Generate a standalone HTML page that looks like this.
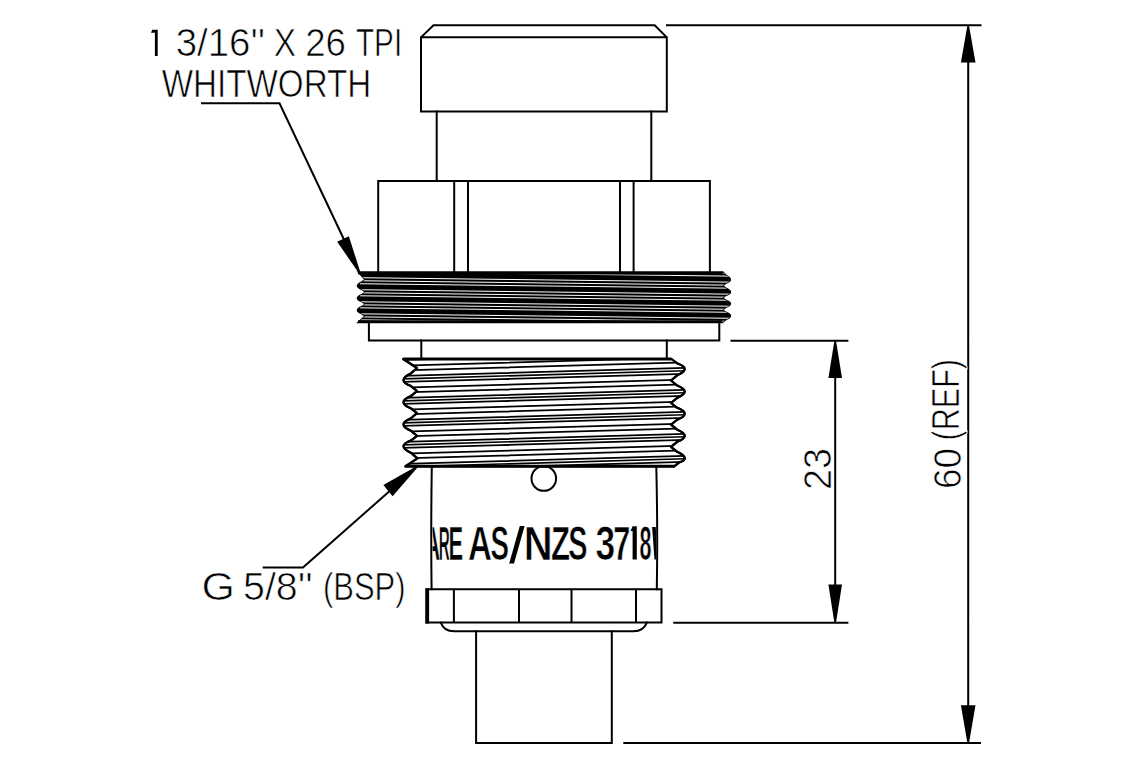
<!DOCTYPE html>
<html><head><meta charset="utf-8"><title>drawing</title>
<style>
html,body{margin:0;padding:0;background:#fff;width:1140px;height:760px;overflow:hidden}
svg{display:block}
text{font-family:"Liberation Sans",sans-serif}
</style></head><body>
<svg width="1140" height="760" viewBox="0 0 1140 760">
<rect width="1140" height="760" fill="#fff"/>
<defs>
<clipPath id="utc"><path d="M358.20,272.00 L722.80,272.00 L725.84,275.12 Q735.05,280.37 725.66,283.34 L722.50,285.70 L725.66,288.18 Q735.14,291.99 725.66,295.44 L722.50,297.80 L725.66,300.16 Q735.14,303.61 725.66,307.42 L722.50,309.90 L725.66,312.26 Q735.20,315.53 725.54,319.88 L722.30,322.60 L358.00,322.40 L365.10,316.10 L362.06,313.78 Q352.94,310.45 362.06,306.52 L365.10,304.00 L362.06,301.68 Q352.94,298.32 362.06,294.48 L365.10,292.00 L362.06,289.48 Q352.94,285.70 362.06,281.92 L365.10,279.40 L358.20,272.00 Z"/></clipPath>
<clipPath id="ltc"><path d="M403.20,359.00 L671.60,359.00 L677.50,363.50 Q692.07,368.59 677.16,375.32 L671.00,380.50 L677.16,385.50 Q692.24,391.52 677.16,397.87 L671.00,403.00 L677.16,407.81 Q692.24,413.62 677.16,419.75 L671.00,424.70 L677.16,429.69 Q692.24,435.83 677.16,441.85 L671.00,446.80 L677.16,451.80 Q691.36,458.64 678.93,462.52 L674.20,466.30 L405.30,466.30 L417.40,458.40 L411.14,452.95 Q395.97,445.86 410.93,440.53 L417.00,435.80 L410.93,430.72 Q396.07,424.50 410.93,418.28 L417.00,413.20 L410.93,408.30 Q396.07,402.41 410.93,396.08 L417.00,391.00 L410.93,386.05 Q396.07,380.27 410.93,373.40 L417.00,368.00 L403.20,359.00 Z"/></clipPath>
<clipPath id="bodyc"><rect x="432.6" y="500" width="223.4" height="80"/></clipPath>
</defs>

<g stroke="#000" stroke-width="2.0" stroke-linecap="square" stroke-linejoin="miter">
<path d="M433.5,25.2 L654.7,25.2 L666.8,37.3 L666.8,111.5 L421,111.5 L421,37.3 Z M421,37.3 L666.8,37.3" fill="none"/>
<path d="M436.7,111.5 V180.9 M651.3,111.5 V180.9" fill="none"/>
<path d="M378.2,272 V180.9 H709.9 V272 M454.2,180.9 V272 M468,180.9 V272 M620,180.9 V272 M633.6,180.9 V272" fill="none"/>
<path d="M368.9,322.4 V340.5 H719.3 V322.4" fill="none"/>
<path d="M421.3,340.5 V359 M666.8,340.5 V359" fill="none"/>
<path d="M431.8,466.3 Q430.8,530 431.6,589.3 M656.3,466.3 Q657.8,530 656.8,589.3" fill="none"/>
<circle cx="543.8" cy="478.5" r="12.3" fill="none"/>
<path d="M426.4,589.3 H661.5 V622.6 H426.4 Z M453.9,589.3 V622.6 M519,589.3 V622.6 M571.5,589.3 V622.6 M636,589.3 V622.6" fill="none"/>
<path d="M427.3,588.3 V623.6" stroke-width="3.6" stroke-linecap="butt" fill="none"/>
<path d="M440.8,622.6 Q444,631.3 454,631.3 H633.5 Q643.5,631.3 646.8,622.6" fill="none"/>
<path d="M476.1,631.3 V742.9 H611.8 V631.3" fill="none"/>
</g>
<path d="M358.20,272.00 L722.80,272.00 L725.84,275.12 Q735.05,280.37 725.66,283.34 L722.50,285.70 L725.66,288.18 Q735.14,291.99 725.66,295.44 L722.50,297.80 L725.66,300.16 Q735.14,303.61 725.66,307.42 L722.50,309.90 L725.66,312.26 Q735.20,315.53 725.54,319.88 L722.30,322.60 L358.00,322.40 L365.10,316.10 L362.06,313.78 Q352.94,310.45 362.06,306.52 L365.10,304.00 L362.06,301.68 Q352.94,298.32 362.06,294.48 L365.10,292.00 L362.06,289.48 Q352.94,285.70 362.06,281.92 L365.10,279.40 L358.20,272.00 Z" fill="#000" stroke="#000" stroke-width="1.5"/>
<g clip-path="url(#utc)"><path d="M360,265.64 L732,270.10 M360,268.69 L732,273.15 M360,271.69 L732,276.15 M360,277.69 L732,282.15 M360,280.74 L732,285.20 M360,283.74 L732,288.20 M360,289.74 L732,294.20 M360,292.79 L732,297.25 M360,295.79 L732,300.25 M360,301.79 L732,306.25 M360,304.84 L732,309.30 M360,307.84 L732,312.30 M360,313.84 L732,318.30 M360,316.89 L732,321.35 M360,319.89 L732,324.35 M360,325.89 L732,330.35 M360,328.94 L732,333.40 M360,331.94 L732,336.40" stroke="#fff" stroke-width="1.0" fill="none"/></g>
<path d="M358.2,273.2 H722.8 M358,321.6 H722.3" stroke="#000" stroke-width="2.6"/>
<path d="M403.20,359.00 L671.60,359.00 L677.50,363.50 Q692.07,368.59 677.16,375.32 L671.00,380.50 L677.16,385.50 Q692.24,391.52 677.16,397.87 L671.00,403.00 L677.16,407.81 Q692.24,413.62 677.16,419.75 L671.00,424.70 L677.16,429.69 Q692.24,435.83 677.16,441.85 L671.00,446.80 L677.16,451.80 Q691.36,458.64 678.93,462.52 L674.20,466.30 L405.30,466.30 L417.40,458.40 L411.14,452.95 Q395.97,445.86 410.93,440.53 L417.00,435.80 L410.93,430.72 Q396.07,424.50 410.93,418.28 L417.00,413.20 L410.93,408.30 Q396.07,402.41 410.93,396.08 L417.00,391.00 L410.93,386.05 Q396.07,380.27 410.93,373.40 L417.00,368.00 L403.20,359.00 Z" fill="#fff" stroke="#000" stroke-width="2.2" stroke-linejoin="round"/>
<g clip-path="url(#ltc)"><path d="M395,332.13 L695,323.55 M395,335.03 L695,326.45 M395,338.13 L695,329.55 M395,343.83 L695,335.25 M395,348.63 L695,340.05 M395,354.13 L695,345.55 M395,357.03 L695,348.45 M395,360.13 L695,351.55 M395,365.83 L695,357.25 M395,370.63 L695,362.05 M395,376.13 L695,367.55 M395,379.03 L695,370.45 M395,382.13 L695,373.55 M395,387.83 L695,379.25 M395,392.63 L695,384.05 M395,398.13 L695,389.55 M395,401.03 L695,392.45 M395,404.13 L695,395.55 M395,409.83 L695,401.25 M395,414.63 L695,406.05 M395,420.13 L695,411.55 M395,423.03 L695,414.45 M395,426.13 L695,417.55 M395,431.83 L695,423.25 M395,436.63 L695,428.05 M395,442.13 L695,433.55 M395,445.03 L695,436.45 M395,448.13 L695,439.55 M395,453.83 L695,445.25 M395,458.63 L695,450.05 M395,464.13 L695,455.55 M395,467.03 L695,458.45 M395,470.13 L695,461.55 M395,475.83 L695,467.25 M395,480.63 L695,472.05 M395,486.13 L695,477.55 M395,489.03 L695,480.45 M395,492.13 L695,483.55 M395,497.83 L695,489.25 M395,502.63 L695,494.05" stroke="#000" stroke-width="1.7" fill="none"/></g>
<path d="M403.20,359.00 L671.60,359.00 L677.50,363.50 Q692.07,368.59 677.16,375.32 L671.00,380.50 L677.16,385.50 Q692.24,391.52 677.16,397.87 L671.00,403.00 L677.16,407.81 Q692.24,413.62 677.16,419.75 L671.00,424.70 L677.16,429.69 Q692.24,435.83 677.16,441.85 L671.00,446.80 L677.16,451.80 Q691.36,458.64 678.93,462.52 L674.20,466.30 L405.30,466.30 L417.40,458.40 L411.14,452.95 Q395.97,445.86 410.93,440.53 L417.00,435.80 L410.93,430.72 Q396.07,424.50 410.93,418.28 L417.00,413.20 L410.93,408.30 Q396.07,402.41 410.93,396.08 L417.00,391.00 L410.93,386.05 Q396.07,380.27 410.93,373.40 L417.00,368.00 L403.20,359.00 Z" fill="none" stroke="#000" stroke-width="2.2" stroke-linejoin="round"/>
<path d="M403.2,359 H671.6" stroke="#000" stroke-width="3"/>
<path d="M405.3,466.0 H674.2" stroke="#000" stroke-width="2.4"/>
<g stroke="#000" stroke-width="2.0" fill="none">
<path d="M666,25.3 H981.5 M623.3,743.0 H981 M968.2,60 V706 M730.5,340.7 H848.4 M673.3,622.7 H848.4 M835.2,376 V586"/>
<path d="M201,103.2 H279.5 L348,248 M262.7,567.4 H303 L392,489"/>
</g>
<path d="M969.00,25.50 L975.50,62.50 L960.90,62.50 L967.40,25.50 Z" fill="#000"/>
<path d="M967.40,743.00 L960.90,705.20 L975.50,705.20 L969.00,743.00 Z" fill="#000"/>
<path d="M836.00,340.70 L842.00,378.10 L828.40,378.10 L834.40,340.70 Z" fill="#000"/>
<path d="M834.40,622.70 L828.40,584.60 L842.00,584.60 L836.00,622.70 Z" fill="#000"/>
<path d="M358.98,273.25 L337.17,241.87 L348.83,236.13 L360.42,272.55 Z" fill="#000"/>
<path d="M417.51,467.42 L392.63,496.24 L383.37,484.96 L416.49,466.18 Z" fill="#000"/>
<path d="M151,32.8 L152.2,29.8 H157.7 V55.9 H154.9 V32.8 Z" fill="#000"/>
<text x="175.66" y="56.15" font-size="38.40" textLength="89.48" fill="#000" stroke="#fff" stroke-width="0.70" lengthAdjust="spacingAndGlyphs">3/16&#39;&#39;</text>
<text x="273.76" y="56.15" font-size="38.40" textLength="22.31" fill="#000" stroke="#fff" stroke-width="0.70" lengthAdjust="spacingAndGlyphs">X</text>
<text x="305.25" y="56.15" font-size="38.40" textLength="40.73" fill="#000" stroke="#fff" stroke-width="0.70" lengthAdjust="spacingAndGlyphs">26</text>
<text x="356.04" y="56.15" font-size="38.40" textLength="46.08" fill="#000" stroke="#fff" stroke-width="0.70" lengthAdjust="spacingAndGlyphs">TPI</text>
<text x="161.75" y="97.25" font-size="38.40" textLength="209.49" fill="#000" stroke="#fff" stroke-width="0.70" lengthAdjust="spacingAndGlyphs">WHITWORTH</text>
<text x="201.43" y="600.15" font-size="38.40" textLength="33.45" fill="#000" stroke="#fff" stroke-width="0.70" lengthAdjust="spacingAndGlyphs">G</text>
<text x="243.02" y="600.15" font-size="38.40" textLength="69.72" fill="#000" stroke="#fff" stroke-width="0.70" lengthAdjust="spacingAndGlyphs">5/8&#39;&#39;</text>
<text x="323.03" y="600.15" font-size="38.40" textLength="82.45" fill="#000" stroke="#fff" stroke-width="0.70" lengthAdjust="spacingAndGlyphs">(BSP)</text>
<text transform="translate(830.65,487.95) rotate(-90)" x="-1.95" y="0" font-size="38.40" textLength="41.82" fill="#000" stroke="#fff" stroke-width="0.70" lengthAdjust="spacingAndGlyphs">23</text>
<text transform="translate(960.75,487.05) rotate(-90)" x="-1.91" y="0" font-size="38.40" textLength="41.02" fill="#000" stroke="#fff" stroke-width="0.70" lengthAdjust="spacingAndGlyphs">60</text>
<text transform="translate(958.55,438.55) rotate(-90)" x="-1.90" y="0" font-size="38.40" textLength="81.50" fill="#000" stroke="#fff" stroke-width="0.70" lengthAdjust="spacingAndGlyphs">(REF)</text>
<g clip-path="url(#bodyc)">
<text x="424.05" y="559.55" font-size="48.40" font-weight="bold" textLength="16.25" lengthAdjust="spacingAndGlyphs" fill="#000" stroke="#fff" stroke-width="0.7">A</text>
<text x="438.72" y="559.55" font-size="48.40" font-weight="bold" textLength="10.99" lengthAdjust="spacingAndGlyphs" fill="#000" stroke="#fff" stroke-width="0.7">R</text>
<text x="448.39" y="559.55" font-size="48.40" font-weight="bold" textLength="14.64" lengthAdjust="spacingAndGlyphs" fill="#000" stroke="#fff" stroke-width="0.7">E</text>
<text x="467.97" y="559.55" font-size="48.40" font-weight="bold" textLength="23.94" lengthAdjust="spacingAndGlyphs" fill="#000" stroke="#fff" stroke-width="0.7">A</text>
<text x="490.49" y="559.55" font-size="48.40" font-weight="bold" textLength="18.47" lengthAdjust="spacingAndGlyphs" fill="#000" stroke="#fff" stroke-width="0.7">S</text>
<path d="M509.2,563.5 L514,563.5 L524.6,526 L519.8,526 Z" fill="#000"/>
<text x="523.65" y="559.55" font-size="48.40" font-weight="bold" textLength="28.89" lengthAdjust="spacingAndGlyphs" fill="#000" stroke="#fff" stroke-width="0.7">N</text>
<text x="551.00" y="559.55" font-size="48.40" font-weight="bold" textLength="19.04" lengthAdjust="spacingAndGlyphs" fill="#000" stroke="#fff" stroke-width="0.7">Z</text>
<text x="568.25" y="559.55" font-size="48.40" font-weight="bold" textLength="19.25" lengthAdjust="spacingAndGlyphs" fill="#000" stroke="#fff" stroke-width="0.7">S</text>
<text x="595.50" y="559.55" font-size="48.40" font-weight="bold" textLength="19.66" lengthAdjust="spacingAndGlyphs" fill="#000" stroke="#fff" stroke-width="0.7">3</text>
<text x="613.24" y="559.55" font-size="48.40" font-weight="bold" textLength="17.08" lengthAdjust="spacingAndGlyphs" fill="#000" stroke="#fff" stroke-width="0.7">7</text>
<path d="M630.6,531 L632.6,526.3 H636.8 V559.4 H632.6 V531 Z" fill="#000"/>
<text x="639.47" y="559.55" font-size="48.40" font-weight="bold" textLength="11.95" lengthAdjust="spacingAndGlyphs" fill="#000" stroke="#fff" stroke-width="0.7">8</text>
<path d="M652.1,527 L655.8,527 L657,559.5 L654.5,559.5 Z" fill="#000"/>
</g>
</svg></body></html>
